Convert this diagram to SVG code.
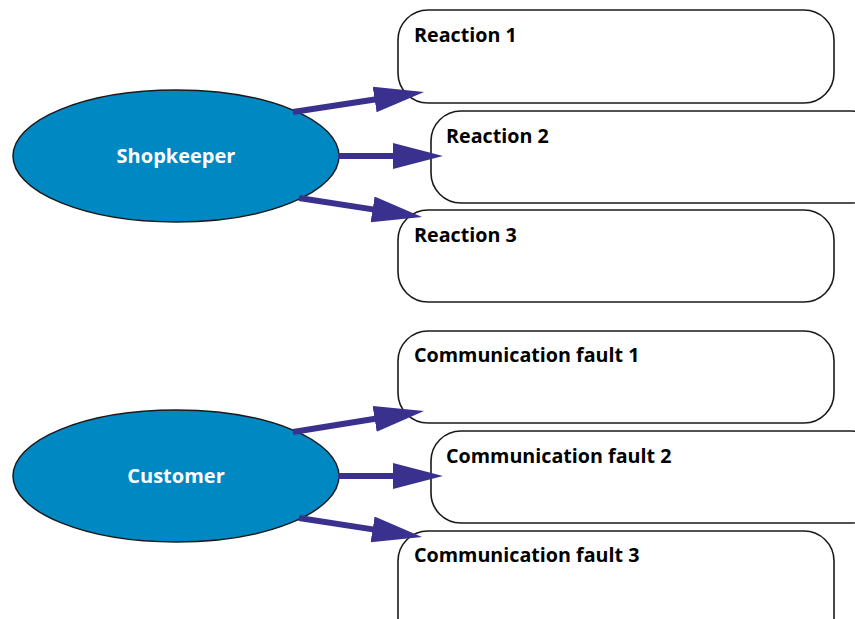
<svg xmlns="http://www.w3.org/2000/svg" width="855" height="619" viewBox="0 0 855 619">
  <defs>
    <!-- the shaft ends 10px inside the head, so the tip stays sharp -->
    <marker id="head" markerUnits="userSpaceOnUse" markerWidth="52" markerHeight="28" refX="10" refY="13" orient="auto">
      <path d="M0,0 L50,13 L0,26 Z" fill="#3a318f"/>
    </marker>
  </defs>
  <style>
    .actor { fill: #0088c2; stroke: #1a1a1a; stroke-width: 1.5; }
    .actor-label { fill: #ffffff; font-family: "Open Sans", "Noto Sans", sans-serif; font-weight: bold; font-size: 20px; text-anchor: middle; }
    .box { fill: #ffffff; stroke: #1a1a1a; stroke-width: 1.6; }
    .box-label { fill: #000000; font-family: "Open Sans", "Noto Sans", sans-serif; font-weight: bold; font-size: 19.7px; }
    .link { stroke: #3a318f; stroke-width: 6; fill: none; marker-end: url(#head); }
  </style>

  <g id="shopkeeper">
    <ellipse class="actor" cx="176" cy="156" rx="163" ry="66"/>
    <text class="actor-label" x="176" y="163">Shopkeeper</text>
  </g>
  <g id="customer">
    <ellipse class="actor" cx="176" cy="476" rx="163" ry="66"/>
    <text class="actor-label" x="176" y="483">Customer</text>
  </g>

  <g id="reaction1">
    <rect class="box" x="398" y="10" width="436" height="93" rx="30"/>
    <text class="box-label" x="414" y="42">Reaction 1</text>
  </g>
  <g id="reaction2">
    <rect class="box" x="431" y="111" width="450" height="92" rx="30"/>
    <text class="box-label" x="446" y="143">Reaction 2</text>
  </g>
  <g id="reaction3">
    <rect class="box" x="398" y="210" width="436" height="92" rx="30"/>
    <text class="box-label" x="414" y="242">Reaction 3</text>
  </g>

  <g id="fault1">
    <rect class="box" x="398" y="331" width="436" height="92" rx="30"/>
    <text class="box-label" x="414" y="362">Communication fault 1</text>
  </g>
  <g id="fault2">
    <rect class="box" x="431" y="431" width="450" height="92" rx="30"/>
    <text class="box-label" x="446" y="463">Communication fault 2</text>
  </g>
  <g id="fault3">
    <rect class="box" x="398" y="531" width="436" height="120" rx="30"/>
    <text class="box-label" x="414" y="562">Communication fault 3</text>
  </g>

  <!-- arrows sit on top of the boxes -->
  <g id="connectors">
    <line class="link" x1="293" y1="112" x2="384.5" y2="98"/>
    <line class="link" x1="338" y1="156" x2="403" y2="156"/>
    <line class="link" x1="299" y1="198" x2="382.5" y2="210.9"/>
    <line class="link" x1="293" y1="432" x2="384.5" y2="417.3"/>
    <line class="link" x1="338" y1="476" x2="403" y2="476"/>
    <line class="link" x1="299" y1="518" x2="382.5" y2="530.9"/>
  </g>
</svg>
